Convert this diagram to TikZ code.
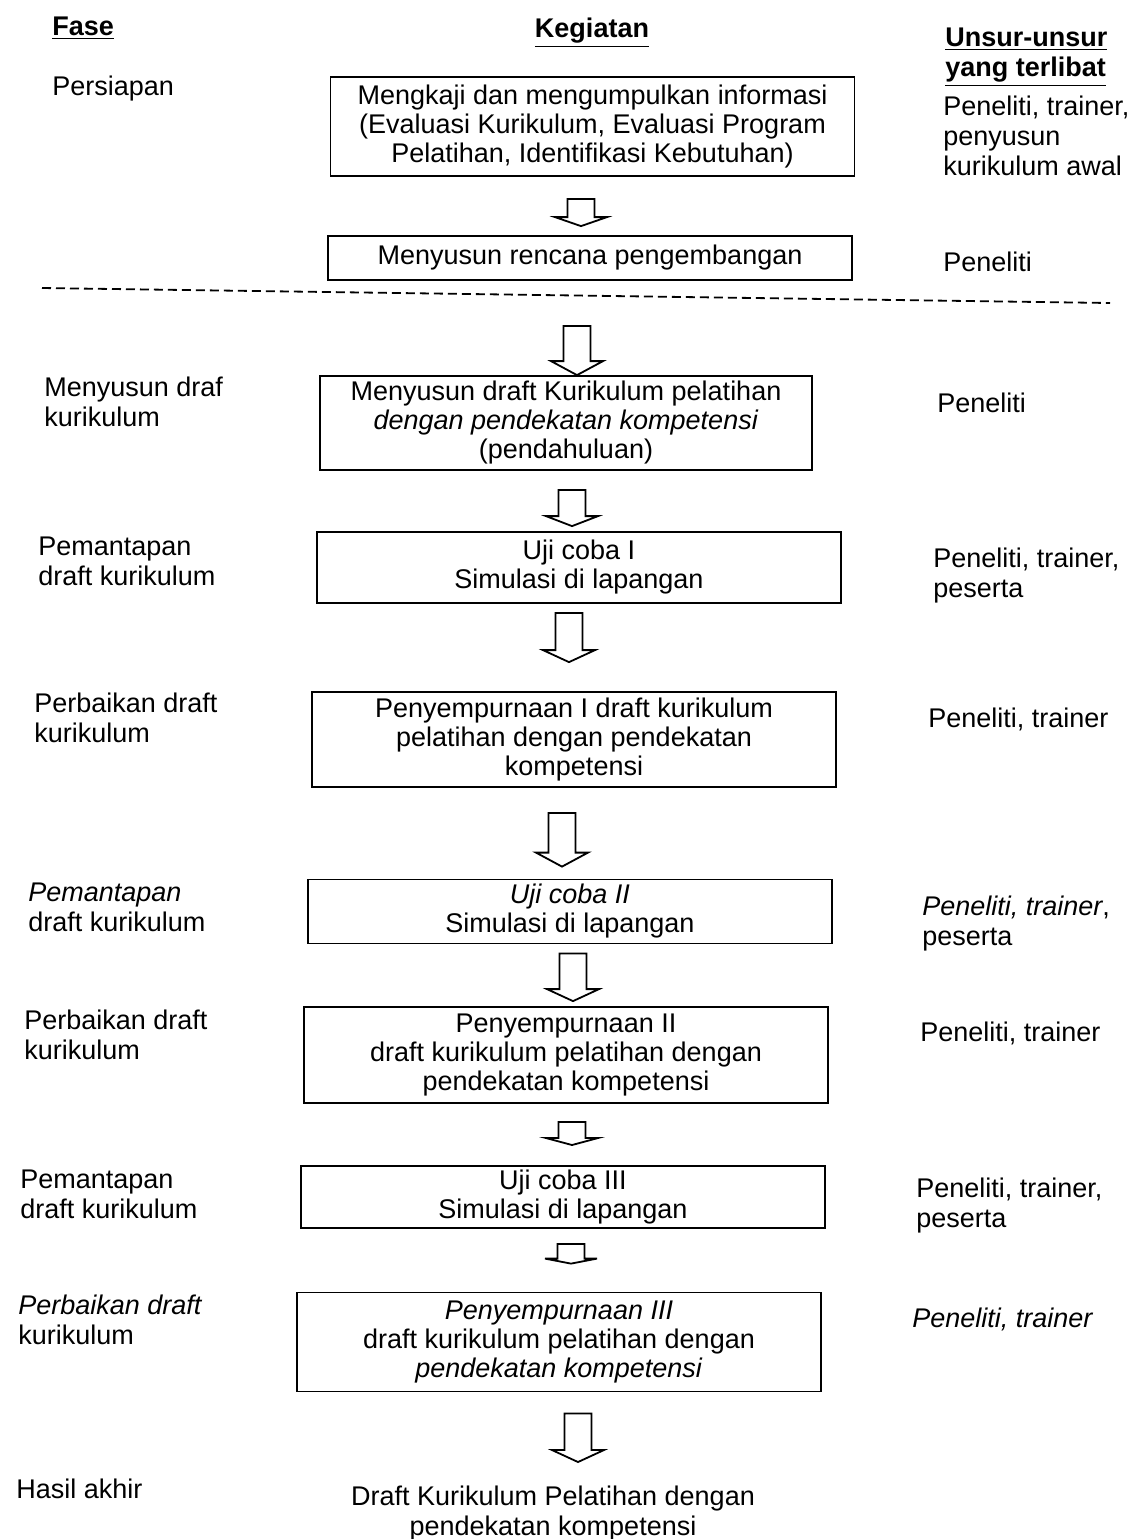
\documentclass[tikz,border=0pt]{standalone}
\usepackage{fontspec}
\setmainfont{Liberation Sans}
\usetikzlibrary{calc}

\tikzset{
	teks/.style={font=\fontsize{13.5pt}{15pt}\selectfont, inner sep=0pt, align=left},
	judul/.style={inner sep=0pt, align=left, font=\fontsize{13.5pt}{15pt}\selectfont\bfseries},
	kotak/.style={draw, line width=0.9pt, align=center, inner sep=2pt, minimum width=262pt, font=\fontsize{13.5pt}{14.5pt}\selectfont},
	panah/.style={draw, line width=0.9pt, to path={let \p1=(\tikztostart), \p2=(\tikztotarget) in
		(\x1-6.75pt,\y1) -- (\x1+6.75pt,\y1) -- (\x1+6.75pt,\y2+#1) -- (\x1+13pt,\y2+#1)
		-- (\x1,\y2) -- (\x1-13pt,\y2+#1) -- (\x1-6.75pt,\y2+#1) -- cycle}},
	panah/.default=6pt
}

\begin{document}
\begin{tikzpicture}[x=0.5pt, y=-0.5pt]
	\useasboundingbox (0,0) rectangle (1137,1539);
	\node[judul, anchor=west] (fase) at (52,28) {\underline{Fase}};
	\node[judul] (kegiatan) at (592,33) {\underline{Kegiatan}};
	\node[judul, anchor=west] (unsur) at (945,57) {\underline{Unsur-unsur}\\\underline{yang terlibat}};

	\node[kotak, minimum height=49.5pt] (k1) at (592.5,126.5) {Mengkaji dan mengumpulkan informasi\\(Evaluasi Kurikulum, Evaluasi Program\\Pelatihan, Identifikasi Kebutuhan)};
	\node[kotak, minimum height=22pt] (k2) at (590,258) {Menyusun rencana pengembangan};
	\node[kotak, minimum height=47pt, minimum width=246pt] (k3) at (566,423) {Menyusun draft Kurikulum pelatihan\\\textit{dengan pendekatan kompetensi}\\(pendahuluan)};
	\node[kotak, minimum height=35.5pt] (k4) at (579,567.5) {Uji coba I\\Simulasi di lapangan};
	\node[kotak, minimum height=47.5pt] (k5) at (574,739.5) {Penyempurnaan I draft kurikulum\\pelatihan dengan pendekatan\\kompetensi};
	\node[kotak, minimum height=32pt] (k6) at (570,911.5) {\textit{Uji coba II}\\Simulasi di lapangan};
	\node[kotak, minimum height=48pt] (k7) at (566,1055) {Penyempurnaan II\\draft kurikulum pelatihan dengan\\pendekatan kompetensi};
	\node[kotak, minimum height=31pt] (k8) at (563,1197) {Uji coba III\\Simulasi di lapangan};
	\node[kotak, minimum height=49.5pt] (k9) at (559,1342) {\textit{Penyempurnaan III}\\draft kurikulum pelatihan dengan\\\textit{pendekatan kompetensi}};
	\node[teks, align=center] (hasil) at (553,1513) {Draft Kurikulum Pelatihan dengan\\pendekatan kompetensi};

	\node[teks, anchor=west] (f1) at (52,89) {Persiapan};
	\node[teks, anchor=west] (f2) at (44,402) {Menyusun draf\\kurikulum};
	\node[teks, anchor=west] (f3) at (38,561) {Pemantapan\\draft kurikulum};
	\node[teks, anchor=west] (f4) at (34,718) {Perbaikan draft\\kurikulum};
	\node[teks, anchor=west] (f5) at (28,907) {\textit{Pemantapan}\\draft kurikulum};
	\node[teks, anchor=west] (f6) at (24,1035) {Perbaikan draft\\kurikulum};
	\node[teks, anchor=west] (f7) at (20,1194) {Pemantapan\\draft kurikulum};
	\node[teks, anchor=west] (f8) at (18,1320) {\textit{Perbaikan draft}\\kurikulum};
	\node[teks, anchor=west] (f9) at (16,1489) {Hasil akhir};

	\node[teks, anchor=west] (u1) at (943,136) {Peneliti, trainer,\\penyusun\\kurikulum awal};
	\node[teks, anchor=west] (u2) at (943,262) {Peneliti};
	\node[teks, anchor=west] (u3) at (937,403) {Peneliti};
	\node[teks, anchor=west] (u4) at (933,576) {Peneliti, trainer,\\peserta};
	\node[teks, anchor=west] (u5) at (928,719) {Peneliti, trainer};
	\node[teks, anchor=west] (u6) at (922,924) {\textit{Peneliti, trainer},\\peserta};
	\node[teks, anchor=west] (u7) at (920,1033) {Peneliti, trainer};
	\node[teks, anchor=west] (u8) at (916,1206) {Peneliti, trainer,\\peserta};
	\node[teks, anchor=west] (u9) at (912,1319) {\textit{Peneliti, trainer}};

	\draw[dash pattern=on 4.5pt off 2.5pt, line width=0.9pt] (42,288) -- (1110,303);

	\draw[panah=4.5pt] ([xshift=-5.75pt,yshift=-11pt]k1.south) to ([yshift=4.5pt]k2.north);
	\draw[panah=7pt] ([xshift=-6.5pt,yshift=-22.5pt]k2.south) to (k3.north);
	\draw[panah=5pt] ([xshift=3pt,yshift=-9.5pt]k3.south) to ([yshift=2.5pt]k4.north);
	\draw[panah] ([xshift=-5pt,yshift=-4.5pt]k4.south) to ([yshift=14.5pt]k5.north);
	\draw[panah=7pt] ([xshift=-6pt,yshift=-12.5pt]k5.south) to ([yshift=6pt]k6.north);
	\draw[panah] ([xshift=1.5pt,yshift=-4.5pt]k6.south) to ([yshift=2.5pt]k7.north);
	\draw[panah=3.5pt] ([xshift=3pt,yshift=-9pt]k7.south) to ([yshift=10pt]k8.north);
	\draw[panah=2.5pt] ([xshift=4pt,yshift=-7.5pt]k8.south) to ([yshift=14pt]k9.north);
	\draw[panah] ([xshift=9.5pt,yshift=-10.5pt]k9.south) to ([yshift=11.5pt]hasil.north);
\end{tikzpicture}
\end{document}
